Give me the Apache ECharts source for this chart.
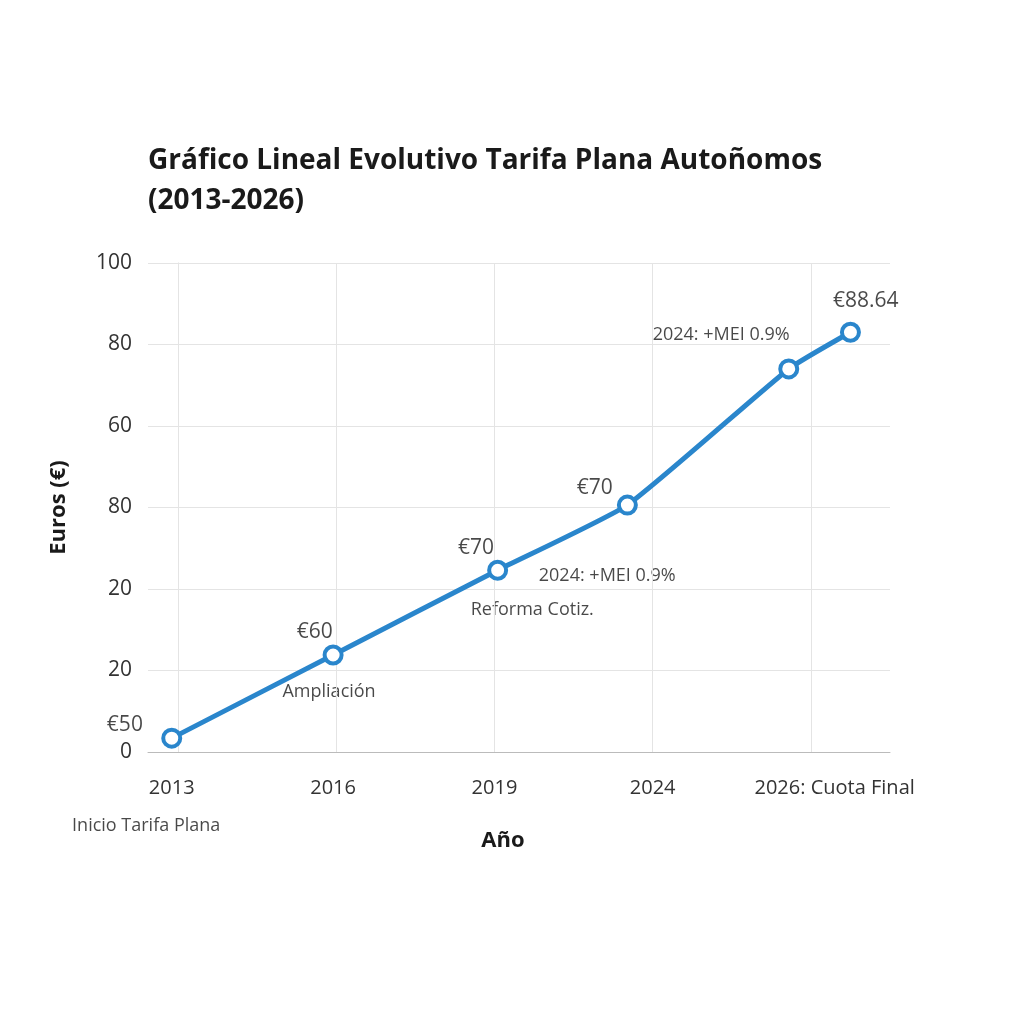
<!DOCTYPE html>
<html><head><meta charset="utf-8">
<script src="https://cdn.jsdelivr.net/npm/echarts@6/dist/echarts.min.js"></script>
<style>html,body{margin:0;background:#fff}#c{width:1024px;height:1024px}</style>
</head><body><div id="c"></div>
<script>
const pointX = [-0.04, 0.98, 2.02, 2.84, 3.86, 4.25];
const pointY = [0.17, 1.19, 2.23, 3.03, 4.7, 5.15];
const yTickLabels = ["0", "20", "20", "80", "60", "80", "100"];
const xTickValues = [-0.04, 0.98, 2.0, 3.0, 4.15];
const xTickLabels = ["2013", "2016", "2019", "2024", "2026: Cuota Final"];
const gridXs = [0, 1, 2, 3, 4];
const notes = [
  ["€50", -0.45, 0.33, 21], ["Inicio Tarifa Plana", -0.67, -0.91, 18],
  ["€60", 0.75, 1.47, 21], ["Ampliación", 0.66, 0.74, 18],
  ["€70", 1.77, 2.5, 21], ["Reforma Cotiz.", 1.85, 1.74, 18],
  ["€70", 2.52, 3.24, 21], ["2024: +MEI 0.9%", 2.28, 2.16, 18],
  ["2024: +MEI 0.9%", 3.0, 5.12, 18], ["€88.64", 4.14, 5.53, 21]
];
const chart = echarts.init(document.getElementById('c'));
chart.setOption({
  animation: false,
  title: { text: 'Gráfico Lineal Evolutivo Tarifa Plana Autoñomos\n(2013-2026)', left: 143, top: 136,
    textStyle: { fontFamily: 'Open Sans', fontWeight: 'bold', fontSize: 28, color: '#1a1a1a', lineHeight: 40 } },
  grid: { left: 148, right: 134, top: 263, bottom: 272 },
  xAxis: { type: 'value', min: -0.19, max: 4.5, name: 'Año', nameLocation: 'middle', nameGap: 78,
    nameTextStyle: { fontFamily: 'Open Sans', fontWeight: 'bold', fontSize: 22, color: '#1a1a1a', padding: [0, 32, 0, 0] },
    axisLine: { show: true, lineStyle: { color: '#bbb' } }, axisTick: { show: false }, splitLine: { show: false },
    axisLabel: { customValues: xTickValues, formatter: v => xTickLabels[xTickValues.indexOf(v)] ?? '', fontFamily: 'Open Sans', fontSize: 20, color: '#333', margin: 26 } },
  yAxis: { type: 'value', min: 0, max: 6, interval: 1, name: 'Euros (€)', nameLocation: 'middle', nameGap: 78,
    nameTextStyle: { fontFamily: 'Open Sans', fontWeight: 'bold', fontSize: 22, color: '#1a1a1a' },
    axisLine: { show: true, lineStyle: { color: '#ddd' } }, axisTick: { show: false },
    splitLine: { lineStyle: { color: '#e4e4e4' } },
    axisLabel: { formatter: v => yTickLabels[v], fontFamily: 'Open Sans', fontSize: 21, color: '#333', margin: 16 } },
  series: [
    { type: 'line', data: pointX.map((x, i) => [x, pointY[i]]), smooth: 0.15,
      lineStyle: { color: '#2a86cc', width: 5 }, symbol: 'circle', symbolSize: 17,
      itemStyle: { color: '#fff', borderColor: '#2a86cc', borderWidth: 4 }, z: 5,
      markLine: { silent: true, symbol: 'none', label: { show: false },
        lineStyle: { color: '#e4e4e4', type: 'solid', width: 1 }, data: gridXs.map(x => ({ xAxis: x })) } },
    { type: 'scatter', symbolSize: 0, silent: true, clip: false,
      data: notes.map(n => ({ value: [n[1], n[2]], label: { fontSize: n[3], color: '#1a1a1a' } })),
      label: { show: true, position: 'inside', align: 'left', color: '#1a1a1a', fontFamily: 'Open Sans',
        formatter: p => notes[p.dataIndex][0] } }
  ]
});
</script></body></html>
